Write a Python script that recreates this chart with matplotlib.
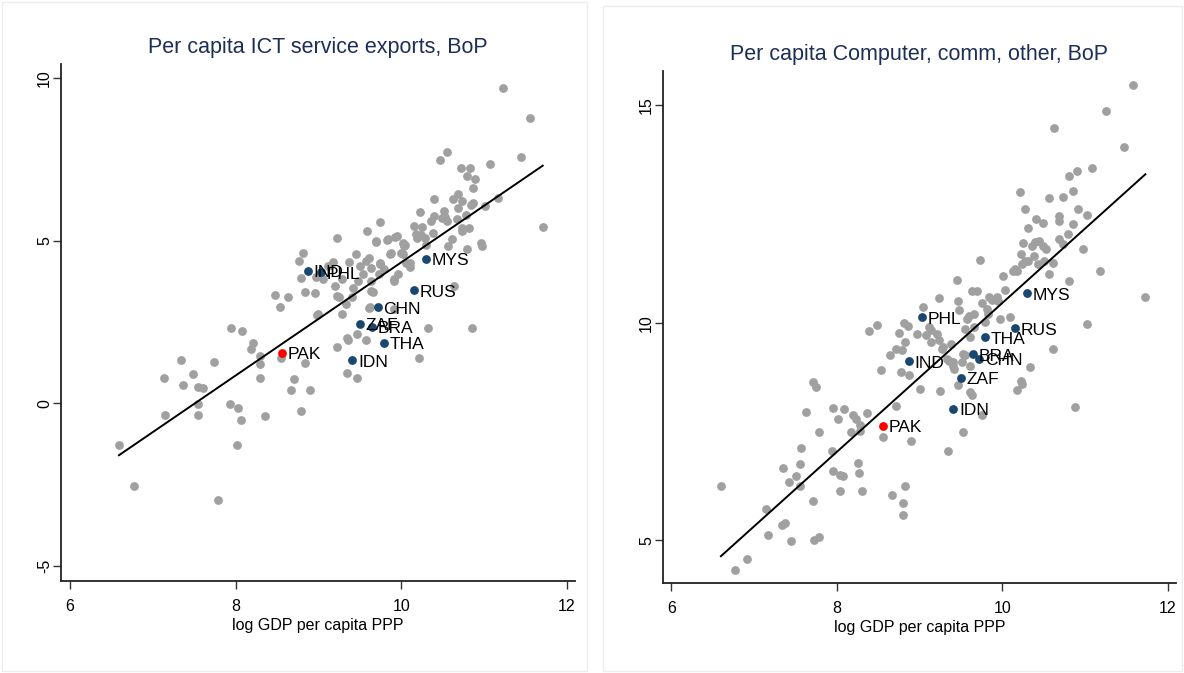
import numpy as np
import matplotlib
matplotlib.use("Agg")
import matplotlib.pyplot as plt
from matplotlib.patches import Rectangle

plt.rcParams['font.family'] = ['Liberation Sans', 'DejaVu Sans']

# ---- left panel: per capita ICT service exports (gray background countries)
ict_x = [6.59, 6.77, 7.14, 7.15, 7.34, 7.37, 7.49, 7.55, 7.61, 7.54, 7.55, 7.74, 7.79, 7.93, 7.94,
         8.03, 8.07, 8.02, 8.08, 8.19, 8.21, 8.29, 8.29, 8.30, 8.35, 8.48, 8.53, 8.63, 8.55, 8.71,
         8.67, 8.79, 8.90, 8.84, 8.98, 8.84, 8.96, 9.23, 8.76, 8.81, 8.79, 8.97, 9.06, 9.12, 9.18,
         9.20, 9.23, 9.25, 9.28, 9.29, 9.33, 9.34, 9.36, 9.37, 9.41, 9.45, 9.47, 9.47, 9.50, 9.54,
         9.57, 9.59, 9.61, 9.62, 9.66, 9.70, 9.74, 9.75, 9.79, 9.84, 9.87, 9.91, 9.95, 9.96, 10.02,
         10.05, 10.06, 10.16, 10.25, 10.18, 10.24, 10.29, 10.38, 10.23, 10.36, 10.40, 10.49, 10.55,
         10.52, 10.40, 10.47, 10.55, 10.63, 10.69, 10.74, 10.72, 10.83, 10.79, 10.89, 10.87, 10.84,
         10.69, 10.68, 10.73, 10.78, 10.61, 10.57, 10.79, 10.96, 10.98, 11.01, 11.07, 11.17, 11.23,
         11.45, 11.56, 11.71, 10.85, 10.33, 10.22, 10.11, 10.11, 10.00, 10.03, 9.88, 9.75, 9.57,
         9.64, 9.73, 9.91, 9.22, 9.42, 9.48, 9.63, 9.64, 9.00, 9.61, 9.91, 9.34, 9.69, 9.83, 9.92,
         10.02, 10.64, 10.30, 10.19, 10.53, 10.73, 10.87, 10.82]
ict_y = [-1.26, -2.52, 0.77, -0.34, 1.32, 0.58, 0.89, 0.49, 0.46, -0.34, -0.03, 1.26, -2.95, -0.03, 2.31,
         -0.15, -0.52, -1.26, 2.22, 1.66, 1.85, 1.45, 1.20, 0.77, -0.40, 3.32, 2.95, 3.26, 1.38, 0.74,
         0.40, -0.22, 0.40, 1.23, 2.71, 3.42, 3.38, 1.72, 4.38, 4.63, 3.84, 3.88, 3.81, 4.21, 4.34,
         3.61, 5.08, 3.28, 3.81, 2.74, 3.04, 0.92, 1.96, 4.34, 3.28, 4.58, 2.12, 0.79, 4.21, 3.97,
         1.96, 5.30, 4.47, 2.96, 3.41, 5.00, 5.56, 4.31, 4.14, 5.04, 4.60, 3.81, 5.13, 3.97, 4.60,
         4.87, 4.31, 5.45, 5.42, 5.20, 5.17, 5.08, 5.23, 5.88, 5.60, 5.75, 5.69, 5.60,
         5.91, 6.28, 7.48, 7.72, 6.28, 6.43, 6.22, 7.23, 7.23, 6.98, 6.89, 6.62, 6.09,
         6.00, 5.66, 5.38, 5.78, 5.05, 4.83, 4.74, 4.92, 4.83, 6.06, 7.35, 6.31, 9.69,
         7.57, 8.77, 5.42, 2.31, 2.31, 1.38, 4.31, 4.18, 4.62, 4.83, 4.62, 4.28, 4.37,
         4.15, 3.97, 3.75, 3.29, 3.54, 3.75, 3.45, 3.75, 2.74, 2.92, 2.89, 2.00, 4.95, 5.02, 5.11,
         4.92, 3.61, 4.87, 5.07, 5.73, 5.29, 6.16, 5.40]

# ---- right panel: per capita computer, comm, other services
cco_x = [6.60, 6.77, 6.92, 7.14, 7.17, 7.35, 7.34, 7.37, 7.42, 7.45, 7.51, 7.55, 7.56, 7.57, 7.63,
         7.71, 7.75, 7.71, 7.73, 7.79, 7.79, 7.94, 7.95, 8.04, 8.07, 7.96, 8.02, 8.04, 8.09, 8.20,
         8.23, 8.28, 8.36, 8.17, 8.28, 8.26, 8.27, 8.31, 8.56, 8.72, 8.67, 8.80, 8.80, 8.83, 8.90,
         8.54, 8.64, 8.71, 8.83, 8.75, 8.81, 8.86, 8.39, 8.49, 8.78, 8.87, 9.01, 9.25, 8.97, 9.08,
         9.14, 9.21, 9.04, 8.79, 9.24, 9.14, 9.27, 9.33, 9.40, 9.42, 9.51, 9.55, 9.45, 9.46, 9.48,
         9.55, 9.61, 9.58, 9.66, 9.63, 9.69, 9.73, 9.75, 9.81, 9.83, 9.88, 9.95, 9.79, 9.61, 9.63,
         9.52, 9.34, 9.75, 10.01, 10.03, 9.97, 10.09, 10.13, 10.18, 10.23, 10.31, 10.24, 10.31, 10.25,
         10.36, 10.38, 10.44, 10.49, 10.53, 10.43, 10.50, 10.61, 10.56, 10.69, 10.73, 10.80, 10.86,
         10.98, 10.81, 11.18, 11.03, 11.73, 10.88, 10.61, 10.34, 10.24, 10.18, 11.58, 11.25, 10.63,
         11.47, 11.09, 10.90, 10.81, 10.22, 10.56, 10.74, 10.85, 10.27, 10.41, 10.49, 10.69, 10.68,
         10.91, 11.03, 10.40, 10.28, 10.15, 9.11, 9.24, 9.29, 9.38, 9.36, 9.41, 9.47, 9.53, 9.60,
         9.61, 9.66, 9.84, 9.94, 10.23]
cco_y = [6.25, 4.33, 4.56, 5.72, 5.12, 6.67, 5.35, 5.39, 6.34, 4.98, 6.48, 6.25, 6.76, 7.11, 7.94,
         8.63, 8.52, 5.90, 5.00, 5.07, 7.48, 7.06, 6.60, 6.50, 6.48, 8.03, 7.78, 6.13, 8.01, 7.89,
         7.78, 7.64, 7.92, 7.48, 7.52, 6.78, 6.55, 6.13, 7.38, 8.08, 6.04, 5.86, 5.58, 6.25, 7.29,
         8.91, 9.26, 9.40, 9.56, 9.77, 10.00, 9.93, 9.81, 9.95, 8.87, 8.80, 8.47, 8.43, 9.75, 9.72,
         9.84, 9.75, 10.35, 9.38, 9.61, 9.56, 9.40, 9.17, 9.10, 8.94, 9.10, 9.26, 10.97, 10.49, 10.30,
         9.86, 9.68, 10.09, 10.19, 10.72, 10.72, 11.44, 10.44, 10.32, 10.21, 10.53, 10.49, 10.02, 8.40, 8.33,
         7.48, 7.06, 7.87, 11.06, 10.76, 10.09, 10.14, 11.18, 11.18, 11.57, 11.41, 11.34, 12.18, 11.83,
         11.76, 11.53, 11.87, 11.76, 11.69, 11.34, 11.41, 11.37, 11.11, 11.92, 11.81, 12.04, 12.27,
         11.69, 10.95, 11.18, 9.98, 10.60, 8.06, 9.40, 8.98, 8.59, 8.45, 15.46, 14.86, 14.47,
         14.03, 13.56, 13.49, 13.36, 12.99, 12.87, 12.89, 13.03, 12.62, 12.38, 12.29, 12.45, 12.34,
         12.62, 12.48, 11.85, 11.41, 11.23, 9.90, 10.57, 9.44, 9.51, 9.11, 9.01, 8.57, 9.29, 10.15,
         9.01, 9.90, 10.59, 10.59, 8.65]

# ---- highlighted comparator countries (navy) and Pakistan (red)
peers = ["IND", "PHL", "MYS", "RUS", "CHN", "ZAF", "BRA", "THA", "IDN"]
peer_gdp = [8.87, 9.03, 10.30, 10.15, 9.72, 9.50, 9.65, 9.79, 9.41]
peer_ict = [4.08, 4.02, 4.44, 3.48, 2.96, 2.45, 2.35, 1.86, 1.33]
peer_cco = [9.11, 10.12, 10.68, 9.87, 9.17, 8.74, 9.27, 9.66, 8.02]
pak_gdp = 8.56
pak_ict = 1.56
pak_cco = 7.63

# linear fit lines as drawn in the source (intercept, slope)
ict_fit = (-13.03, 1.736)
cco_fit = (-6.65, 1.710)

GRAY = "#a0a0a0"
NAVY = "#1a476f"
TITLE_C = "#1e2f55"

W, H = 1184, 673
fig = plt.figure(figsize=(W / 100, H / 100), dpi=100)

# faint outer frames of the two graph panels
for (x0, y0, x1, y1) in [(2, 2, 587, 671), (603, 6, 1182, 671)]:
    fig.patches.append(Rectangle((x0 / W, 1 - y1 / H), (x1 - x0) / W, (y1 - y0) / H,
                                 transform=fig.transFigure, fill=False,
                                 edgecolor="#ededed", lw=1))


def panel(rect, gx, gy, hy, py, fit, title, tpad, xlim, ylim, yticks):
    ax = fig.add_axes([rect[0] / W, 1 - rect[3] / H, (rect[2] - rect[0]) / W, (rect[3] - rect[1]) / H])
    ax.scatter(gx, gy, s=40, color=GRAY, lw=0, zorder=2)
    allx = np.r_[gx, peer_gdp, pak_gdp]
    xs = np.array([allx.min(), allx.max()])
    ax.plot(xs, fit[0] + fit[1] * xs, color="black", lw=1.4, zorder=3)
    ax.scatter(peer_gdp, hy, s=40, color=NAVY, lw=0, zorder=4)
    ax.scatter([pak_gdp], [py], s=40, color="#ff0000", lw=0, zorder=4)
    for name, x, y in zip(peers + ["PAK"], peer_gdp + [pak_gdp], list(hy) + [py]):
        ax.annotate(name, (x, y), xytext=(4, -1.5), textcoords="offset points",
                    ha="left", va="center", fontsize=12.5, color="black", zorder=5)
    ax.set_xlim(*xlim)
    ax.set_ylim(*ylim)
    ax.set_xticks([6, 8, 10, 12])
    ax.set_yticks(yticks)
    ax.set_yticklabels([str(t) for t in yticks], rotation=90, va="center")
    for s in ["top", "right"]:
        ax.spines[s].set_visible(False)
    for s in ["left", "bottom"]:
        ax.spines[s].set_color("#222222")
        ax.spines[s].set_linewidth(1.3)
    ax.tick_params(direction="out", length=6, width=1, color="#333333", labelsize=11.5)
    ax.tick_params(axis="x", pad=7)
    ax.tick_params(axis="y", pad=0.5)
    ax.set_xlabel("log GDP per capita PPP", fontsize=11.5, labelpad=3)
    ax.set_title(title, fontsize=15.5, color=TITLE_C, pad=tpad)
    return ax


panel((61, 64, 575, 581), ict_x, ict_y, peer_ict, pak_ict, ict_fit,
      "Per capita ICT service exports, BoP", 8, (5.89, 12.1), (-5.45, 10.42), [-5, 0, 5, 10])
panel((663, 71, 1176, 583), cco_x, cco_y, peer_cco, pak_cco, cco_fit,
      "Per capita Computer, comm, other, BoP", 8, (5.9, 12.1), (4.02, 15.78), [5, 10, 15])

fig.savefig("out.png", dpi=100)
